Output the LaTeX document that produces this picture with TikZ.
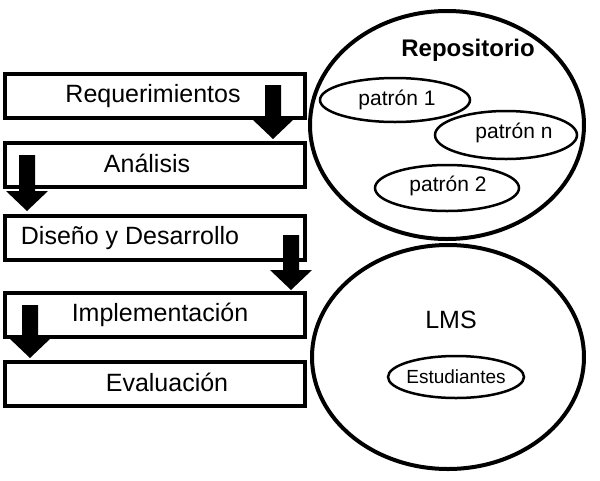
\documentclass[tikz,border=0pt]{standalone}
\usepackage{fontspec}
\setmainfont{Liberation Sans}
\begin{document}
\begin{tikzpicture}[x=1pt,y=-1pt,
  stage/.style={draw,line width=3.5pt,minimum width=300pt,minimum height=44pt,inner sep=0pt},
  lbl/.style={font=\fontsize{25}{28}\selectfont,inner sep=0pt},
  pl/.style={font=\fontsize{21}{24}\selectfont,inner sep=0pt}]
\useasboundingbox (0,0) rectangle (600,480);
\node[stage] (req) at (155,96) {};
\node[stage] (ana) at (155,165) {};
\node[stage] (dis) at (155,238) {};
\node[stage] (imp) at (155,315) {};
\node[stage] (eva) at (155,384) {};
\node[lbl] (treq) at (153,96) {Requerimientos};
\node[lbl] (tana) at (147,163) {Análisis};
\node[lbl] (tdis) at (130,238) {Diseño y Desarrollo};
\node[lbl] (timp) at (160,315) {Implementación};
\node[lbl] (teva) at (167,382) {Evaluación};
\newcommand{\downarr}[3]{\fill (#1-8,#2) -- (#1+8,#2) -- (#1+8,#3-20) -- (#1+21,#3-20) -- (#1,#3) -- (#1-21,#3-20) -- (#1-8,#3-20) -- cycle;}
\downarr{273}{85}{139}
\downarr{27}{155}{211}
\downarr{291}{235}{290}
\downarr{30}{305}{358}
\draw[line width=4pt] (447,125) ellipse (137 and 114);
\draw[line width=4pt] (448,357) ellipse (136 and 112);
\node[font=\bfseries\fontsize{24}{28}\selectfont] (rept) at (468,50) {Repositorio};
\node[font=\fontsize{25}{28}\selectfont] (lmst) at (451,320) {LMS};
\draw[line width=2.5pt] (395,100) ellipse (75 and 22);
\node[pl] (p1) at (397,100) {patrón 1};
\draw[line width=2.5pt] (506,135) ellipse (71 and 24);
\node[pl] (pn) at (514,133) {patrón n};
\draw[line width=2.5pt] (447,188) ellipse (72 and 23);
\node[pl] (p2) at (448,186) {patrón 2};
\draw[line width=2.5pt] (456,377) ellipse (68 and 21);
\node[font=\fontsize{19}{22}\selectfont,inner sep=0pt] (est) at (456,377) {Estudiantes};
\end{tikzpicture}
\end{document}
